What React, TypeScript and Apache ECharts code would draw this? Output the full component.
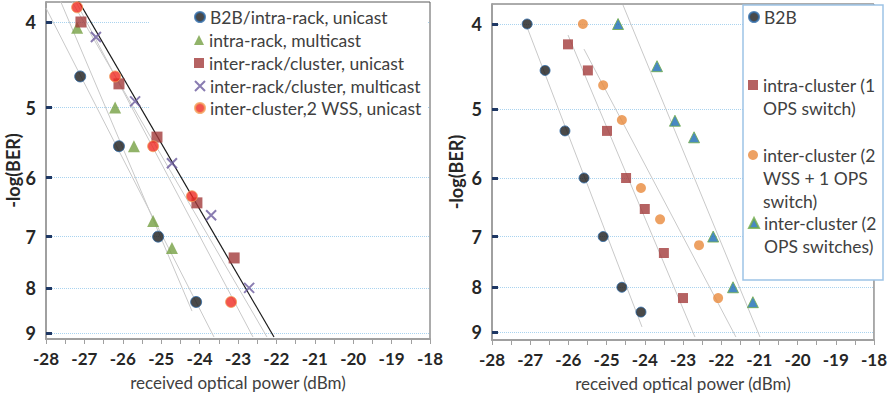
import React, { useEffect, useRef } from 'react';
import * as echarts from 'echarts';

// ---------- data ----------
const xTickMin = -28;
const xTickMax = -18;
const yTickValues = [4, 5, 6, 7, 8, 9];

const leftNames = [
  'B2B/intra-rack, unicast',
  'intra-rack, multicast',
  'inter-rack/cluster, unicast',
  'inter-rack/cluster, multicast',
  'inter-cluster,2 WSS, unicast',
];
const leftB2B = [[-27.11, 4.61], [-26.10, 5.53], [-25.08, 7.0], [-24.09, 8.30]];
const leftIntraMulti = [[-27.19, 4.06], [-26.20, 5.0], [-25.71, 5.53], [-25.21, 6.72], [-24.72, 7.21]];
const leftInterUni = [[-27.09, 4.0], [-26.10, 4.70], [-25.11, 5.40], [-24.07, 6.41], [-23.10, 7.40]];
const leftInterMulti = [[-26.70, 4.16], [-25.68, 4.92], [-24.72, 5.78], [-23.70, 6.62], [-22.71, 8.0]];
const leftWss = [[-27.19, 3.85], [-26.20, 4.61], [-25.21, 5.53], [-24.20, 6.30], [-23.18, 8.30]];

const leftFitGray = [
  [[-28.0, 3.857], [-23.625, 9.095]],
  [[-27.635, 3.777], [-24.198, 8.50]],
  [[-27.245, 3.777], [-22.609, 9.095]],
  [[-27.349, 3.777], [-22.245, 9.095]],
];
const leftFitBlack = [[-27.167, 3.777], [-22.0625, 9.095]];

const rightNames = [
  'B2B',
  'intra-cluster (1\nOPS switch)',
  'inter-cluster (2\nWSS + 1 OPS\nswitch)',
  'inter-cluster (2\nOPS switches)',
];
const rightB2B = [[-27.08, 4.0], [-26.61, 4.52], [-26.09, 5.30], [-25.59, 6.0], [-25.09, 7.0], [-24.60, 8.0], [-24.10, 8.54]];
const rightIntra = [[-26.01, 4.22], [-25.49, 4.52], [-24.99, 5.30], [-24.49, 6.0], [-24.0, 6.51], [-23.50, 7.31], [-23.0, 8.23]];
const rightWss = [[-25.62, 4.0], [-25.09, 4.70], [-24.60, 5.15], [-24.10, 6.16], [-23.60, 6.69], [-22.58, 7.16], [-22.08, 8.23]];
const rightOps = [[-24.70, 4.0], [-23.68, 4.47], [-23.21, 5.16], [-22.71, 5.39], [-22.21, 7.0], [-21.69, 8.0], [-21.17, 8.32]];

const rightFitGray = [
  [[-27.084, 4.032], [-24.073, 8.88]],
  [[-26.010, 4.118], [-22.686, 9.12]],
  [[-25.592, 4.273], [-21.613, 9.12]],
  [[-24.571, 3.805], [-20.984, 9.12]],
];

// ---------- helpers ----------
const FONT = 'Lato, "Open Sans", sans-serif';
const tf = (pts: number[][]) => pts.map(([x, y]) => [x, Math.log10(y)]);

const X_PATH = 'path://M0,0L10,10M10,0L0,10';

function makeXAxis(gridIndex: number) {
  return {
    type: 'value',
    gridIndex,
    min: xTickMin,
    max: xTickMax,
    interval: 1,
    name: 'received optical power (dBm)',
    nameLocation: 'middle',
    nameGap: 35,
    nameTextStyle: { fontFamily: FONT, fontSize: 17, color: '#404040' },
    axisLine: { show: true, onZero: false, lineStyle: { color: '#a0a0a0', width: 2 } },
    axisTick: { show: true, length: 5, lineStyle: { color: '#a0a0a0', width: 1 } },
    minorTick: { show: true, splitNumber: 2, length: 5, lineStyle: { color: '#a0a0a0', width: 1 } },
    splitLine: { show: false },
    axisLabel: {
      margin: 11,
      fontFamily: FONT,
      fontSize: 17,
      fontWeight: 'bold',
      color: '#262626',
      formatter: (v: number) => String(v),
    },
  };
}

function makeYAxis(gridIndex: number, min: number, max: number, nameGap: number) {
  const custom = yTickValues.map((v) => Math.log10(v));
  return {
    type: 'value',
    gridIndex,
    inverse: true,
    min,
    max,
    name: '-log(BER)',
    nameLocation: 'middle',
    nameGap,
    nameTextStyle: { fontFamily: FONT, fontSize: 18, fontWeight: 'bold', color: '#262626' },
    axisLine: { show: true, onZero: false, lineStyle: { color: '#a0a0a0', width: 2 } },
    axisTick: {
      show: true,
      inside: true,
      length: 6,
      customValues: custom,
      lineStyle: { color: '#1f3864', width: 3 },
    },
    splitLine: {
      show: true,
      lineStyle: { color: '#a9d3ef', type: 'dotted', width: 1 },
    },
    axisLabel: {
      customValues: custom,
      margin: 10,
      fontFamily: FONT,
      fontSize: 18,
      fontWeight: 'bold',
      color: '#262626',
      formatter: (v: number) => String(Math.round(Math.pow(10, v))),
    },
  };
}

function fitSeries(pts: number[][], xi: number, color: string, width: number) {
  return {
    type: 'line',
    xAxisIndex: xi,
    yAxisIndex: xi,
    data: tf(pts),
    showSymbol: false,
    symbol: 'none',
    silent: true,
    z: 1,
    lineStyle: { color, width },
  };
}

function scatter(name: string, pts: number[][], xi: number, symbol: string, size: number, itemStyle: any) {
  return {
    type: 'scatter',
    name,
    xAxisIndex: xi,
    yAxisIndex: xi,
    data: tf(pts),
    symbol,
    symbolSize: size,
    itemStyle,
    z: 3,
  };
}

const styBlack = { color: '#1c1c1c', borderColor: '#2e6aa8', borderWidth: 1 };
const styGreen = { color: '#76a043' };
const styBrown = { color: '#a33b3b' };
const styPurple = { color: '#6b5b9e', borderColor: '#6b5b9e', borderWidth: 2 };
const styRed = { color: '#ef2a22', borderColor: '#f4a05a', borderWidth: 1 };
const styOrange = { color: '#e8893c' };
const styBlue = { color: '#1a6bb3', borderColor: '#70ad47', borderWidth: 1 };

function legendItem(name: string, left: number, centerY: number, lh: number) {
  const lines = name.split('\n').length;
  const H = (2 * lines - 1) * lh;
  return {
    data: [name],
    left,
    top: centerY - H / 2,
    orient: 'vertical',
    padding: 0,
    itemWidth: 10,
    itemHeight: 10,
    itemGap: 0,
    selectedMode: false,
    formatter: (n: string) => '\n'.repeat(lines - 1) + n,
    textStyle: {
      fontFamily: FONT,
      fontSize: 17.5,
      color: '#404040',
      lineHeight: lh,
    },
  };
}

export default function App() {
  const ref = useRef<HTMLDivElement>(null);
  useEffect(() => {
    if (!ref.current) return;
    const chart = echarts.init(ref.current, undefined, { renderer: 'svg' });
    const option: any = {
      animation: false,
      backgroundColor: '#ffffff',
      grid: [
        { left: 46, top: 2, width: 384, height: 337, show: true, borderColor: '#595959', borderWidth: 1, backgroundColor: 'transparent' },
        { left: 492, top: 4, width: 382, height: 336, show: true, borderColor: '#595959', borderWidth: 1, backgroundColor: 'transparent' },
      ],
      xAxis: [makeXAxis(0), makeXAxis(1)],
      yAxis: [makeYAxis(0, 0.57941, 0.96102, 22), makeYAxis(1, 0.57919, 0.96337, 27)],
      legend: [
        legendItem(leftNames[0], 194, 17, 22),
        legendItem(leftNames[1], 194, 40, 22),
        legendItem(leftNames[2], 194, 63, 22),
        legendItem(leftNames[3], 194, 86, 22),
        legendItem(leftNames[4], 194, 108, 22),
        legendItem(rightNames[0], 748, 17, 23),
        legendItem(rightNames[1], 748, 85, 23),
        legendItem(rightNames[2], 748, 155, 23),
        legendItem(rightNames[3], 748, 223, 23),
      ],
      graphic: [
        { type: 'rect', z: 3, shape: { x: 150, y: 3, width: 278, height: 116 }, style: { fill: '#ffffff' } },
        { type: 'rect', z: 3, shape: { x: 743, y: 5, width: 140, height: 275 }, style: { fill: '#ffffff', stroke: '#9dc3e6', lineWidth: 1.5 } },
      ],
      series: [
        ...leftFitGray.map((f) => fitSeries(f, 0, '#c9c9c9', 1)),
        fitSeries(leftFitBlack, 0, '#1a1a1a', 1.2),
        ...rightFitGray.map((f) => fitSeries(f, 1, '#c9c9c9', 1)),
        scatter(leftNames[0], leftB2B, 0, 'circle', 11, styBlack),
        scatter(leftNames[1], leftIntraMulti, 0, 'triangle', 12, styGreen),
        scatter(leftNames[2], leftInterUni, 0, 'rect', 11, styBrown),
        scatter(leftNames[3], leftInterMulti, 0, X_PATH, 10, styPurple),
        scatter(leftNames[4], leftWss, 0, 'circle', 11, styRed),
        scatter(rightNames[0], rightB2B, 1, 'circle', 10, styBlack),
        scatter(rightNames[1], rightIntra, 1, 'rect', 10, styBrown),
        scatter(rightNames[2], rightWss, 1, 'circle', 10, styOrange),
        scatter(rightNames[3], rightOps, 1, 'triangle', 11, styBlue),
      ],
    };
    chart.setOption(option);
    return () => chart.dispose();
  }, []);
  return <div ref={ref} style={{ position: 'absolute', left: 0, top: 0, width: 890, height: 399 }} />;
}
